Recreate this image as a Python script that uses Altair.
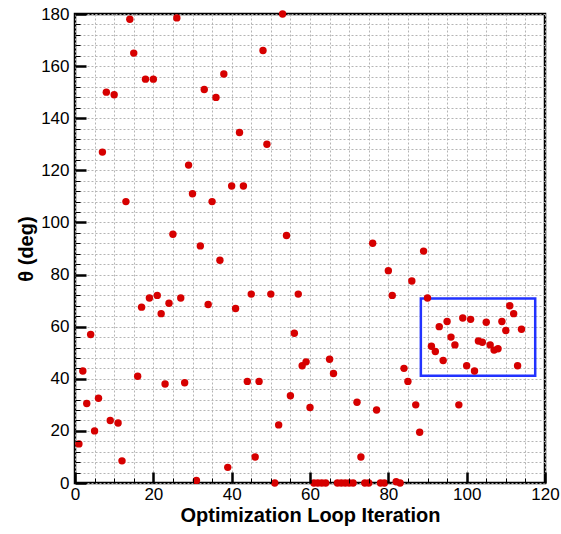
import altair as alt
import pandas as pd

# Angle theta (deg) recorded at each optimization loop iteration
iterations = list(range(1, 115))
theta = [
    15, 43, 30.5, 57, 20, 32.5, 127, 150, 24, 149,
    23, 8.5, 108, 178, 165, 41, 67.5, 155, 71, 155,
    72, 65, 38, 69, 95.5, 178.5, 71, 38.5, 122, 111,
    1, 91, 151, 68.5, 108, 148, 85.5, 157, 6, 114,
    67, 134.5, 114, 39, 72.5, 10, 39, 166, 130, 72.5,
    0, 22.3, 180, 95, 33.5, 57.5, 72.5, 45, 46.5, 29,
    0, 0, 0, 0, 47.5, 42, 0, 0, 0, 0,
    0, 31, 10, 0, 0, 92, 28, 0, 0, 81.5,
    72, 0.5, 0, 44, 39, 77.5, 30, 19.5, 89, 71,
    52.5, 50.5, 60, 47, 62, 56, 53, 30, 63.3, 45,
    62.8, 43, 54.5, 54, 61.7, 53, 51, 51.5, 62, 58.5,
    68, 65, 45, 59,
]

# Highlighted region of converged iterations
box_x = [88.3, 117.5]
box_y = [41.2, 70.8]

# Axis tick positions
x_major = list(range(0, 121, 20))
y_major = list(range(0, 181, 20))
x_minor = list(range(0, 121, 5))
y_minor = list(range(0, 181, 4))

df = pd.DataFrame({"iter": iterations, "theta": theta})
box = pd.DataFrame({"x": [box_x[0]], "x2": [box_x[1]], "y": [box_y[0]], "y2": [box_y[1]]})

W, H = 470, 469
FONT = "Liberation Sans"

x_scale = alt.Scale(domain=[0, 120], nice=False, zero=False)
y_scale = alt.Scale(domain=[0, 180], nice=False, zero=False)

# Labelled axes carrying the dotted grid
x_axis = alt.Axis(
    values=x_minor, title="Optimization Loop Iteration",
    labelExpr="datum.value % 20 === 0 ? datum.label : ''",
    labelOverlap=False, labelFlush=False, ticks=False, domain=False,
    grid=True, gridDash=[2, 2], gridColor="#b4b4b4", gridWidth=1,
    labelFont=FONT, labelFontSize=17, labelColor="black", labelPadding=3,
    titleFont=FONT, titleFontSize=20, titleFontWeight="bold", titleColor="black",
    titlePadding=3,
)
y_axis = alt.Axis(
    values=y_minor, title="θ (deg)",
    labelExpr="datum.value % 20 === 0 ? datum.label : ''",
    labelOverlap=False, labelFlush=False, ticks=False, domain=False,
    grid=True, gridDash=[2, 2], gridColor="#b4b4b4", gridWidth=1,
    labelFont=FONT, labelFontSize=17, labelColor="black", labelPadding=6,
    titleFont=FONT, titleFontSize=20, titleFontWeight="bold", titleColor="black",
    titlePadding=4,
)


def inward_axes(x_vals, y_vals, size, width):
    """Tick-only axes moved onto the opposite edge so the ticks point into the plot."""
    common = dict(labels=False, domain=False, grid=False, title=None,
                  ticks=True, tickSize=size, tickWidth=width,
                  tickColor="black", tickOpacity=1, zindex=2)
    ax = alt.Axis(orient="top", offset=-H, values=x_vals, **common)
    ay = alt.Axis(orient="right", offset=-W, values=y_vals, **common)
    return ax, ay


ax_major, ay_major = inward_axes(x_major, y_major, 11, 2.5)
ax_minor, ay_minor = inward_axes(x_minor, y_minor, 5, 1)

minor_layer = alt.Chart(box).mark_rect(opacity=0).encode(
    x=alt.X("x:Q", scale=x_scale, axis=ax_minor),
    x2="x2:Q",
    y=alt.Y("y:Q", scale=y_scale, axis=ay_minor),
    y2="y2:Q",
)

box_layer = alt.Chart(box).mark_rect(
    fillOpacity=0, stroke="#2233ff", strokeWidth=2.5
).encode(
    x=alt.X("x:Q", scale=x_scale, axis=ax_major),
    x2="x2:Q",
    y=alt.Y("y:Q", scale=y_scale, axis=ay_major),
    y2="y2:Q",
)

points = alt.Chart(df).mark_circle(size=55, color="#d60000", opacity=1).encode(
    x=alt.X("iter:Q", scale=x_scale, axis=x_axis),
    y=alt.Y("theta:Q", scale=y_scale, axis=y_axis),
)

chart = alt.layer(minor_layer, box_layer, points).resolve_axis(
    x="independent", y="independent"
).properties(
    width=W, height=H,
    autosize=alt.AutoSizeParams(type="none"),
    padding={"left": 75, "top": 14, "right": 16, "bottom": 51},
    background="white",
).configure_view(
    stroke="black", strokeWidth=2.5
)

chart.save("out.html", embed_options={"renderer": "svg", "actions": False})
